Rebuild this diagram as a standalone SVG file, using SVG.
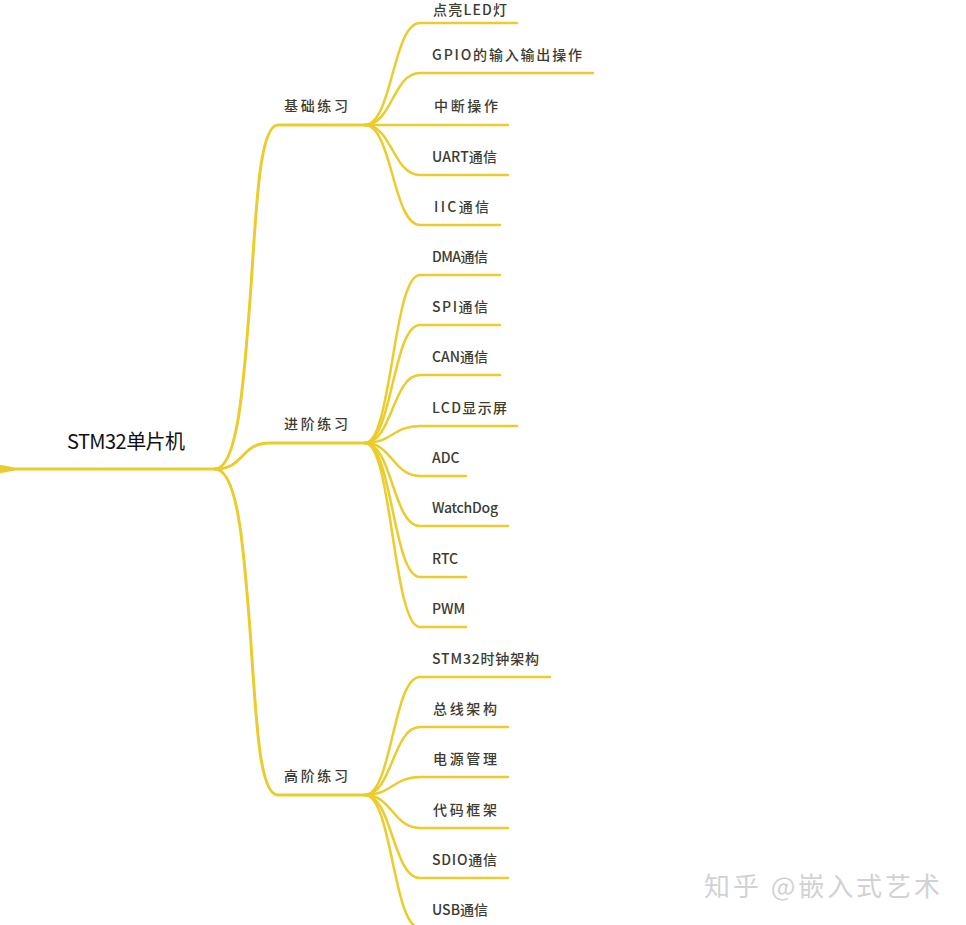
<svg xmlns="http://www.w3.org/2000/svg" width="966" height="925" viewBox="0 0 966 925">
<style>
.c{fill:none;stroke:#ECCC2C;stroke-linecap:round}
.b{stroke-width:3}
.l{stroke-width:2.5}
.t{font-family:"Noto Sans CJK SC","Liberation Sans",sans-serif;font-size:14px;font-weight:500;fill:#3c3c30}
.r{font-family:"Noto Sans CJK SC","Liberation Sans",sans-serif;font-size:20px;fill:#111}
.w{font-family:"Noto Sans CJK SC",sans-serif;font-size:26px;fill:#d2d2d2}
</style>
<rect width="966" height="925" fill="#fff"/>
<g id="connectors">
<path d="M0,465 C6,465 10,467.5 16,467.5 L215,467.5 L215,470.5 L16,470.5 C10,470.5 6,473 0,473 Z" fill="#ECCC2C"/>
<path class="c b" d="M215,469 C238,469 244,380 250,300 S258,125 278,125 L365,125"/>
<path class="c b" d="M215,469 C245,469 240,443 270,443 L365,443"/>
<path class="c b" d="M215,469 C238,469 244,550 250,630 S258,795 278,795 L365,795"/>
<path class="c l" d="M365,125 C392,125 393,23 420,23 H517"/>
<path class="c l" d="M365,125 C392,125 393,73 420,73 H593"/>
<path class="c l" d="M365,125 H508"/>
<path class="c l" d="M365,125 C392,125 393,175 420,175 H508"/>
<path class="c l" d="M365,125 C392,125 393,225 420,225 H500"/>
<path class="c l" d="M365,443 C392,443 393,275 420,275 H500"/>
<path class="c l" d="M365,443 C392,443 393,325 420,325 H500"/>
<path class="c l" d="M365,443 C392,443 393,375 420,375 H500"/>
<path class="c l" d="M365,443 C392,443 393,426 420,426 H517"/>
<path class="c l" d="M365,443 C392,443 393,476 420,476 H466"/>
<path class="c l" d="M365,443 C392,443 393,526 420,526 H508"/>
<path class="c l" d="M365,443 C392,443 393,577 420,577 H466"/>
<path class="c l" d="M365,443 C392,443 393,627 420,627 H466"/>
<path class="c l" d="M365,795 C392,795 393,677 420,677 H550"/>
<path class="c l" d="M365,795 C392,795 393,727 420,727 H508"/>
<path class="c l" d="M365,795 C392,795 393,777 420,777 H508"/>
<path class="c l" d="M365,795 C392,795 393,828 420,828 H508"/>
<path class="c l" d="M365,795 C392,795 393,878 420,878 H508"/>
<path class="c l" d="M365,795 C392,795 393,928 420,928 H500"/>
</g>
<g id="root"><text class="r" x="67" y="449" textLength="118">STM32单片机</text></g>
<g id="basic"><text class="t" x="284" y="111" textLength="64">基础练习</text></g>
<g id="advanced"><text class="t" x="284" y="429" textLength="64">进阶练习</text></g>
<g id="expert"><text class="t" x="284" y="781" textLength="64">高阶练习</text></g>
<g id="led"><text class="t" x="433" y="15" textLength="74">点亮LED灯</text></g>
<g id="gpio"><text class="t" x="432" y="60" textLength="150">GPIO的输入输出操作</text></g>
<g id="irq"><text class="t" x="434" y="111" textLength="64">中断操作</text></g>
<g id="uart"><text class="t" x="432" y="162" textLength="65">UART通信</text></g>
<g id="iic"><text class="t" x="434" y="212" textLength="55">IIC通信</text></g>
<g id="dma"><text class="t" x="432" y="262" textLength="56">DMA通信</text></g>
<g id="spi"><text class="t" x="432" y="312" textLength="56">SPI通信</text></g>
<g id="can"><text class="t" x="432" y="362" textLength="56">CAN通信</text></g>
<g id="lcd"><text class="t" x="432" y="413" textLength="75">LCD显示屏</text></g>
<g id="adc"><text class="t" x="432" y="463">ADC</text></g>
<g id="wdg"><text class="t" x="432" y="513" textLength="66">WatchDog</text></g>
<g id="rtc"><text class="t" x="432" y="564">RTC</text></g>
<g id="pwm"><text class="t" x="432" y="614">PWM</text></g>
<g id="clock"><text class="t" x="432" y="664" textLength="107">STM32时钟架构</text></g>
<g id="bus"><text class="t" x="433" y="714" textLength="64">总线架构</text></g>
<g id="power"><text class="t" x="433" y="764" textLength="64">电源管理</text></g>
<g id="framework"><text class="t" x="433" y="815" textLength="64">代码框架</text></g>
<g id="sdio"><text class="t" x="432" y="865" textLength="65">SDIO通信</text></g>
<g id="usb"><text class="t" x="432" y="915" textLength="56">USB通信</text></g>
<g id="watermark"><text class="w" x="704" y="896" textLength="236">知乎 @嵌入式艺术</text></g>
</svg>
